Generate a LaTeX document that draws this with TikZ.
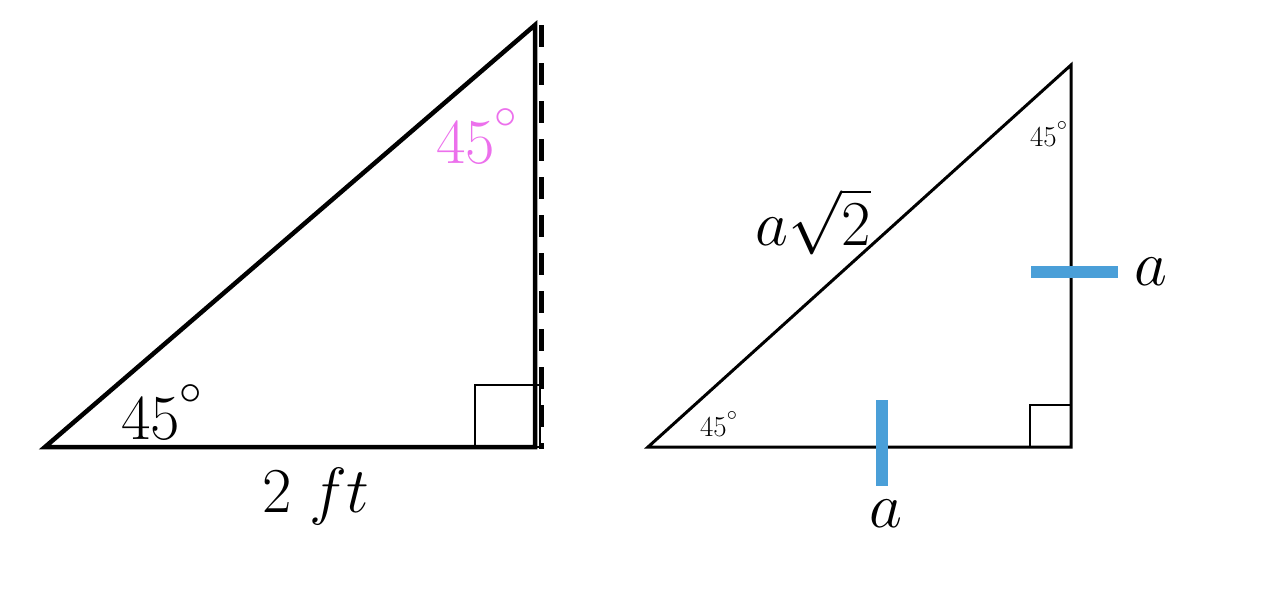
\RequirePackage{fix-cm}
\documentclass[tikz,border=0pt]{standalone}
\definecolor{angpink}{RGB}{236,112,236}
\definecolor{tickblue}{RGB}{74,159,216}
\newcommand{\degsign}{^{\raisebox{0.17em}{$\scriptstyle\circ$}}}
\tikzset{
  big/.style={inner sep=0pt, anchor=base west, font=\fontsize{64}{72}\selectfont},
  small/.style={inner sep=0pt, anchor=base west, font=\fontsize{29}{34}\selectfont},
  thickside/.style={line width=4.5pt, line join=miter},
  thinside/.style={line width=3pt, line join=miter},
  tickmark/.style={tickblue, line width=12pt},
}
\begin{document}
\begin{tikzpicture}[x=1pt,y=-1pt]
\useasboundingbox (0,0) rectangle (1276,590);
% left triangle
\coordinate (A) at (45,447);
\coordinate (B) at (535,447);
\coordinate (C) at (535,25);
\coordinate (D1) at (541,25);
\coordinate (D2) at (541,449);
\draw[thickside] (A) -- (B) -- (C) -- cycle;
\draw[line width=5pt, dash pattern=on 22pt off 16pt] (D1) -- (D2);
\draw[line width=2.5pt] (475,447) rectangle (540,385);
\node[big, text=angpink] (p45) at (436,163) {$45\degsign$};
\node[big] (b45) at (121,439) {$45\degsign$};
\node[big] (len) at (262,512) {$2\;ft$};
% right triangle
\coordinate (E) at (648,447);
\coordinate (F) at (1071,447);
\coordinate (G) at (1071,65);
\draw[thinside] (E) -- (F) -- (G) -- cycle;
\draw[line width=2pt] (1030,447) rectangle (1071,405);
\node[small] (t45) at (1030,146) {$45\degsign$};
\node[small] (s45) at (700,436) {$45\degsign$};
\node[big] (hyp) at (755,245) {$a\sqrt{2}$};
\coordinate (R1) at (1031,272);
\coordinate (R2) at (1118,272);
\draw[tickmark] (R1) -- (R2);
\coordinate (S1) at (882,400);
\coordinate (S2) at (882,486);
\draw[tickmark] (S1) -- (S2);
\node[big] (ra) at (1134,285) {$a$};
\node[big] (ba) at (869,527) {$a$};
\end{tikzpicture}
\end{document}
